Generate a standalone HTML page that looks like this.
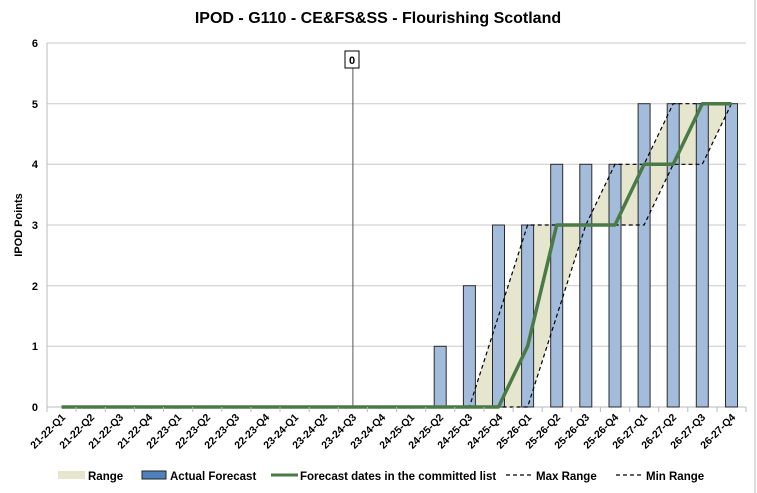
<!DOCTYPE html>
<html><head><meta charset="utf-8"><style>
html,body{margin:0;padding:0;background:#fff;}
svg{display:block;font-family:"Liberation Sans",sans-serif;}
</style></head><body>
<svg width="757" height="493" viewBox="0 0 757 493" xmlns="http://www.w3.org/2000/svg">
<rect x="0" y="0" width="757" height="493" fill="#fff"/>
<line x1="755" y1="0" x2="755" y2="493" stroke="#bbb" stroke-width="1"/>
<text x="378" y="23" text-anchor="middle" font-size="16" font-weight="bold" fill="#000">IPOD - G110 - CE&amp;FS&amp;SS - Flourishing Scotland</text>
<!-- gridlines -->
<g stroke="#c8c8c8" stroke-width="1">
<line x1="47" y1="43" x2="746" y2="43"/>
<line x1="47" y1="103.7" x2="746" y2="103.7"/>
<line x1="47" y1="164.3" x2="746" y2="164.3"/>
<line x1="47" y1="225" x2="746" y2="225"/>
<line x1="47" y1="285.7" x2="746" y2="285.7"/>
<line x1="47" y1="346.3" x2="746" y2="346.3"/>
</g>
<line x1="47" y1="43" x2="47" y2="407" stroke="#bbb"/>
<line x1="47" y1="407" x2="746" y2="407" stroke="#bbb"/>
<g font-size="11" font-weight="bold" text-anchor="end" fill="#000">
<text x="38" y="411">0</text><text x="38" y="350">1</text><text x="38" y="290">2</text>
<text x="38" y="229">3</text><text x="38" y="168">4</text><text x="38" y="108">5</text><text x="38" y="47">6</text>
</g>
<text transform="translate(22,225) rotate(-90)" text-anchor="middle" font-size="11" font-weight="bold">IPOD Points</text>
<!-- range fill -->
<polygon points="469.4,407 527.6,225 585.8,225 615,164.3 644.1,164.3 673.2,103.7 731.5,103.7 702.3,164.3 673.2,164.3 644.1,225 585.8,225 527.6,407" fill="#e6e6cf"/>
<!-- bars -->
<g fill="#a3bcdb" stroke="#2b2b2b" stroke-width="1">
<rect x="434.2" y="346.3" width="12" height="60.7"/>
<rect x="463.4" y="285.7" width="12" height="121.3"/>
<rect x="492.5" y="225" width="12" height="182"/>
<rect x="521.6" y="225" width="12" height="182"/>
<rect x="550.7" y="164.3" width="12" height="242.7"/>
<rect x="579.8" y="164.3" width="12" height="242.7"/>
<rect x="609" y="164.3" width="12" height="242.7"/>
<rect x="638.1" y="103.7" width="12" height="303.3"/>
<rect x="667.2" y="103.7" width="12" height="303.3"/>
<rect x="696.3" y="103.7" width="12" height="303.3"/>
<rect x="725.5" y="103.7" width="12" height="303.3"/>
</g>
<!-- vertical marker -->
<line x1="352.9" y1="68" x2="352.9" y2="407" stroke="#555" stroke-width="1"/>
<rect x="345" y="51" width="14" height="17" fill="#fff" stroke="#000"/>
<text x="352" y="64" text-anchor="middle" font-size="11" font-weight="bold">0</text>
<!-- dashed lines -->
<g fill="none" stroke="#000" stroke-width="1.2" stroke-dasharray="4,3">
<polyline points="61.6,407 469.4,407 527.6,225 585.8,225 615,164.3 644.1,164.3 673.2,103.7 731.5,103.7"/>
<polyline points="61.6,407 527.6,407 585.8,225 644.1,225 673.2,164.3 702.3,164.3 731.5,103.7"/>
</g>
<!-- forecast line -->
<polyline points="61.6,407 498.5,407 527.6,346.3 556.7,225 615,225 644.1,164.3 673.2,164.3 702.3,103.7 731.5,103.7" fill="none" stroke="#4a7a45" stroke-width="3.5" stroke-linejoin="round"/>
<!-- ticks -->
<g stroke="#bbb">
<line x1="47" y1="407" x2="47" y2="412"/><line x1="76.1" y1="407" x2="76.1" y2="412"/><line x1="105.3" y1="407" x2="105.3" y2="412"/><line x1="134.4" y1="407" x2="134.4" y2="412"/><line x1="163.5" y1="407" x2="163.5" y2="412"/><line x1="192.7" y1="407" x2="192.7" y2="412"/><line x1="221.8" y1="407" x2="221.8" y2="412"/><line x1="250.9" y1="407" x2="250.9" y2="412"/><line x1="280" y1="407" x2="280" y2="412"/><line x1="309.2" y1="407" x2="309.2" y2="412"/><line x1="338.3" y1="407" x2="338.3" y2="412"/><line x1="367.4" y1="407" x2="367.4" y2="412"/><line x1="396.6" y1="407" x2="396.6" y2="412"/><line x1="425.7" y1="407" x2="425.7" y2="412"/><line x1="454.8" y1="407" x2="454.8" y2="412"/><line x1="483.9" y1="407" x2="483.9" y2="412"/><line x1="513.1" y1="407" x2="513.1" y2="412"/><line x1="542.2" y1="407" x2="542.2" y2="412"/><line x1="571.3" y1="407" x2="571.3" y2="412"/><line x1="600.4" y1="407" x2="600.4" y2="412"/><line x1="629.6" y1="407" x2="629.6" y2="412"/><line x1="658.7" y1="407" x2="658.7" y2="412"/><line x1="687.8" y1="407" x2="687.8" y2="412"/><line x1="717" y1="407" x2="717" y2="412"/><line x1="746" y1="407" x2="746" y2="412"/>
</g>
<!-- x labels -->
<g font-size="10.5" font-weight="bold" text-anchor="end">
<text transform="translate(66,418) rotate(-45)">21-22-Q1</text>
<text transform="translate(95,418) rotate(-45)">21-22-Q2</text>
<text transform="translate(124,418) rotate(-45)">21-22-Q3</text>
<text transform="translate(153,418) rotate(-45)">21-22-Q4</text>
<text transform="translate(182,418) rotate(-45)">22-23-Q1</text>
<text transform="translate(211,418) rotate(-45)">22-23-Q2</text>
<text transform="translate(240,418) rotate(-45)">22-23-Q3</text>
<text transform="translate(270,418) rotate(-45)">22-23-Q4</text>
<text transform="translate(299,418) rotate(-45)">23-24-Q1</text>
<text transform="translate(328,418) rotate(-45)">23-24-Q2</text>
<text transform="translate(357,418) rotate(-45)">23-24-Q3</text>
<text transform="translate(386,418) rotate(-45)">23-24-Q4</text>
<text transform="translate(415,418) rotate(-45)">24-25-Q1</text>
<text transform="translate(444,418) rotate(-45)">24-25-Q2</text>
<text transform="translate(473,418) rotate(-45)">24-25-Q3</text>
<text transform="translate(503,418) rotate(-45)">24-25-Q4</text>
<text transform="translate(532,418) rotate(-45)">25-26-Q1</text>
<text transform="translate(561,418) rotate(-45)">25-26-Q2</text>
<text transform="translate(590,418) rotate(-45)">25-26-Q3</text>
<text transform="translate(619,418) rotate(-45)">25-26-Q4</text>
<text transform="translate(648,418) rotate(-45)">26-27-Q1</text>
<text transform="translate(677,418) rotate(-45)">26-27-Q2</text>
<text transform="translate(706,418) rotate(-45)">26-27-Q3</text>
<text transform="translate(736,418) rotate(-45)">26-27-Q4</text>
</g>
<!-- legend -->
<g font-size="11.5" font-weight="bold">
<rect x="58" y="471" width="27" height="8" fill="#e6e6cf"/>
<text x="88" y="480">Range</text>
<rect x="142" y="471" width="24" height="8" fill="#4f81bd" stroke="#222"/>
<text x="170" y="480">Actual Forecast</text>
<line x1="271" y1="475" x2="298" y2="475" stroke="#4a7a45" stroke-width="3"/>
<text x="300" y="480">Forecast dates in the committed list</text>
<line x1="506" y1="475" x2="532" y2="475" stroke="#000" stroke-width="1.2" stroke-dasharray="4,3"/>
<text x="536" y="480">Max Range</text>
<line x1="616" y1="475" x2="642" y2="475" stroke="#000" stroke-width="1.2" stroke-dasharray="4,3"/>
<text x="646" y="480">Min Range</text>
</g>
</svg>
</body></html>
